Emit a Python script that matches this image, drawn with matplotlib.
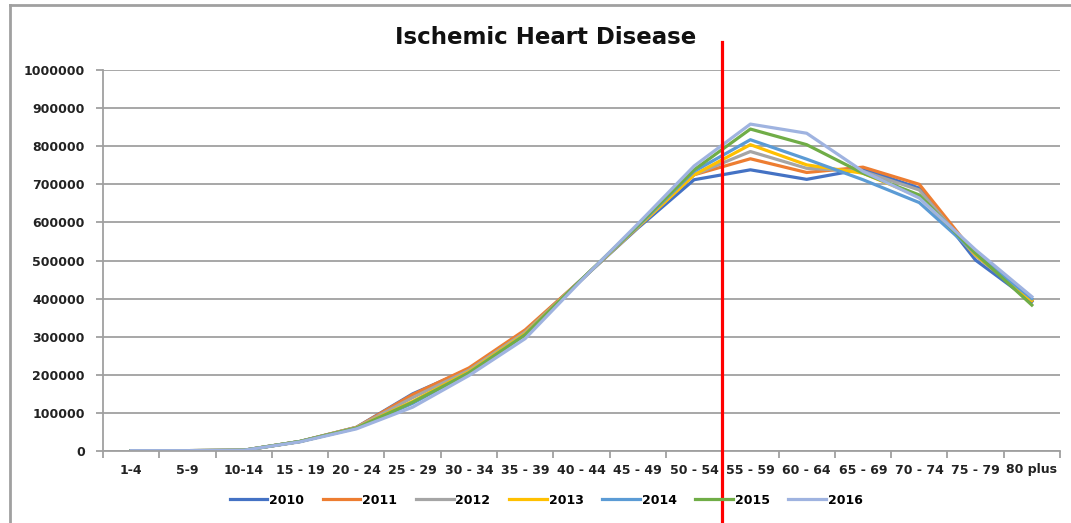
import numpy as np
import matplotlib
matplotlib.use('Agg')
import matplotlib.pyplot as plt
import matplotlib.transforms as mtransforms
from matplotlib.lines import Line2D

age_groups = ['1-4', '5-9', '10-14', '15 - 19', '20 - 24', '25 - 29', '30 - 34',
              '35 - 39', '40 - 44', '45 - 49', '50 - 54', '55 - 59', '60 - 64',
              '65 - 69', '70 - 74', '75 - 79', '80 plus']

years = ['2010', '2011', '2012', '2013', '2014', '2015', '2016']

deaths_2010 = [1000, 1000, 2000, 25000, 62000, 150000, 215000, 315000, 450000, 585000,
               712000, 738000, 713000, 740000, 690000, 501000, 392000]
deaths_2011 = [1000, 1000, 2000, 25000, 62000, 148000, 218000, 318000, 450000, 588000,
               725000, 767000, 731000, 745000, 700000, 515000, 396000]
deaths_2012 = [1000, 1000, 2000, 25000, 62000, 140000, 212000, 312000, 450000, 588000,
               725000, 786000, 742000, 734000, 685000, 512000, 396000]
deaths_2013 = [1000, 1000, 2000, 25000, 61000, 130000, 208000, 308000, 450000, 588000,
               725000, 804000, 751000, 729000, 668000, 515000, 395000]
deaths_2014 = [1000, 1000, 2000, 25000, 60000, 125000, 205000, 305000, 450000, 590000,
               734000, 817000, 766000, 712000, 652000, 519000, 400000]
deaths_2015 = [1000, 1000, 2000, 25000, 60000, 128000, 205000, 305000, 450000, 592000,
               738000, 845000, 804000, 729000, 672000, 519000, 383000]
deaths_2016 = [1000, 1000, 2000, 24000, 58000, 115000, 198000, 295000, 448000, 596000,
               748000, 858000, 834000, 734000, 664000, 528000, 405000]

series = [deaths_2010, deaths_2011, deaths_2012, deaths_2013,
          deaths_2014, deaths_2015, deaths_2016]
colors = ['#4472C4', '#ED7D31', '#A5A5A5', '#FFC000', '#5B9BD5', '#70AD47', '#9FB3E0']

yticks = np.arange(0, 1000001, 100000)

fig = plt.figure(figsize=(10.71, 5.23), dpi=100)
ax = fig.add_axes([103 / 1071, 1 - 451 / 523, 957 / 1071, 381 / 523])

x = np.arange(len(age_groups))
for vals, year, col in zip(series, years, colors):
    ax.plot(x, vals, color=col, lw=2.3, label=year, solid_joinstyle='round')

grid_col = '#A0A0A0'
ax.set_xlim(-0.5, len(age_groups) - 0.5)
ax.set_ylim(0, 1000000)
ax.set_yticks(yticks)
ax.set_yticklabels([str(v) for v in yticks])
ax.yaxis.grid(True, color=grid_col, lw=1.3)
ax.set_axisbelow(True)

ax.set_xticks(np.arange(-0.5, len(age_groups)))
ax.set_xticklabels([])
ax.set_xticks(x, minor=True)
ax.set_xticklabels(age_groups, minor=True)
ax.tick_params(axis='x', which='major', length=5, width=1.3, color=grid_col)
ax.tick_params(axis='x', which='minor', length=0, pad=9)
ax.tick_params(axis='y', length=5, width=1.3, color=grid_col, pad=8)
for lab in ax.get_xticklabels(minor=True) + ax.get_yticklabels():
    lab.set_fontsize(9)
    lab.set_fontweight('bold')
    lab.set_color('#222222')

for s in ['top', 'right']:
    ax.spines[s].set_visible(False)
for s in ['left', 'bottom']:
    ax.spines[s].set_color(grid_col)
    ax.spines[s].set_linewidth(1.3)

fig.text(0.509, 1 - 37 / 523, 'Ischemic Heart Disease', ha='center', va='center',
         fontsize=16.5, fontweight='bold', color='#111111')

fig.legend(loc='center', bbox_to_anchor=(0.51, 1 - 500 / 523), ncol=7, frameon=False,
           handlelength=3.0, handletextpad=0.15, columnspacing=1.5,
           prop={'size': 9, 'weight': 'bold'})

# chart frame (top and left edges)
fig.add_artist(Line2D([10 / 1071, 1], [1 - 5 / 523, 1 - 5 / 523], transform=fig.transFigure,
                      color=grid_col, lw=2))
fig.add_artist(Line2D([10 / 1071, 10 / 1071], [0, 1 - 5 / 523], transform=fig.transFigure,
                      color=grid_col, lw=2))

# red divider between 50-54 and 55-59
trans = mtransforms.blended_transform_factory(ax.transData, fig.transFigure)
fig.add_artist(Line2D([10.5, 10.5], [0, 1 - 42 / 523], transform=trans, color='#FF0000', lw=2.3))

fig.savefig('out.png', dpi=100)
